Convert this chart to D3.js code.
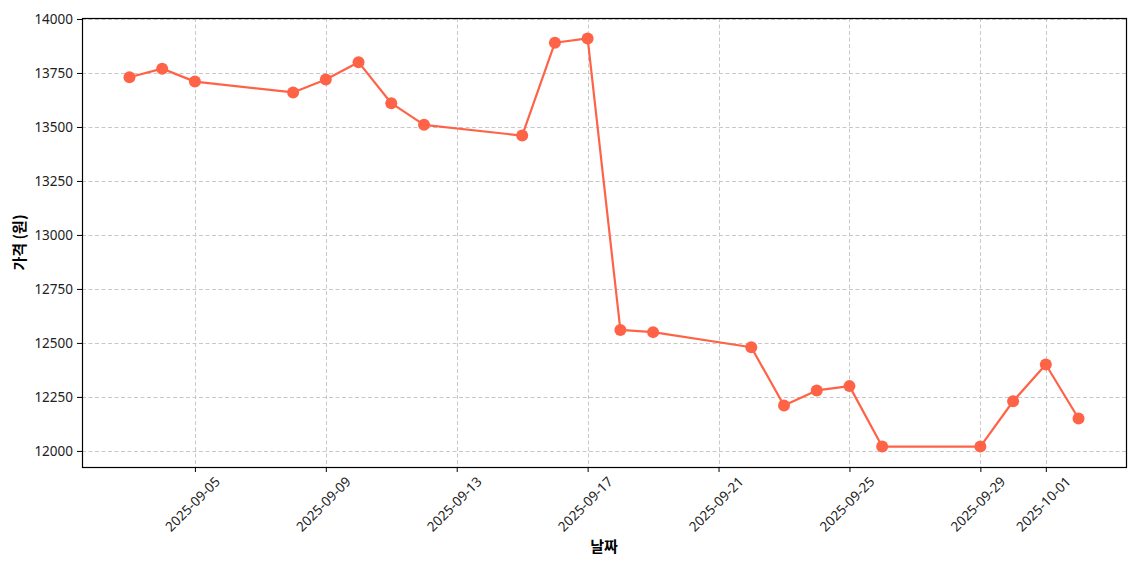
<!DOCTYPE html>
<html>
<head>
<meta charset="utf-8">
<script src="https://cdn.jsdelivr.net/npm/d3@7"></script>
<style>
  body { margin: 0; background: #fff; }
  text { font-family: "Noto Sans", "Noto Sans CJK KR", sans-serif; }
</style>
</head>
<body>
<div id="chart"></div>
<script>
// Data arrays
let dates = ["2025-09-03","2025-09-04","2025-09-05","2025-09-08","2025-09-09","2025-09-10",
  "2025-09-11","2025-09-12","2025-09-15","2025-09-16","2025-09-17","2025-09-18","2025-09-19",
  "2025-09-22","2025-09-23","2025-09-24","2025-09-25","2025-09-26","2025-09-29","2025-09-30",
  "2025-10-01","2025-10-02"];
let prices = [13730,13770,13710,13660,13720,13800,13610,13510,13460,13890,13910,12560,12550,
  12480,12210,12280,12300,12020,12020,12230,12400,12150];
let xTickLabels = ["2025-09-05","2025-09-09","2025-09-13","2025-09-17","2025-09-21",
  "2025-09-25","2025-09-29","2025-10-01"];
let yTicks = [12000,12250,12500,12750,13000,13250,13500,13750,14000];

let width = 1140, height = 570;
let margin = {left: 82, right: 14, top: 18, bottom: 103};
let parse = d3.utcParse("%Y-%m-%d");
let data = dates.map((d, i) => ({date: parse(d), price: prices[i]}));

let svg = d3.select("#chart")
  .append("svg")
  .attr("width", width)
  .attr("height", height);

// matplotlib style 5% padding on both axes
let x0 = data[0].date, x1 = data[data.length - 1].date;
let xPad = (x1 - x0) * 0.05;
let x = d3.scaleUtc()
  .domain([new Date(+x0 - xPad), new Date(+x1 + xPad)])
  .range([margin.left, width - margin.right]);

let yMin = d3.min(prices), yMax = d3.max(prices);
let yPad = (yMax - yMin) * 0.05;
let y = d3.scaleLinear()
  .domain([yMin - yPad, yMax + yPad])
  .range([height - margin.bottom, margin.top]);

let xTicks = xTickLabels.map(parse);

// Grid
let grid = svg.append("g")
  .attr("stroke", "#c8c8c8")
  .attr("stroke-width", 1)
  .attr("stroke-dasharray", "4,2.5");
grid.selectAll(".gx").data(xTicks).enter().append("line")
  .attr("x1", d => Math.round(x(d)) + 0.5).attr("x2", d => Math.round(x(d)) + 0.5)
  .attr("y1", margin.top).attr("y2", height - margin.bottom);
grid.selectAll(".gy").data(yTicks).enter().append("line")
  .attr("x1", margin.left).attr("x2", width - margin.right)
  .attr("y1", d => Math.round(y(d)) + 0.5).attr("y2", d => Math.round(y(d)) + 0.5);

// Axes
let xAxis = svg.append("g")
  .attr("transform", `translate(0,${height - margin.bottom})`)
  .call(d3.axisBottom(x).tickValues(xTicks).tickSize(5).tickPadding(4)
    .tickFormat(d3.utcFormat("%Y-%m-%d")));
xAxis.select(".domain").remove();
xAxis.selectAll("text")
  .attr("font-size", 13.5)
  .attr("fill", "#222")
  .attr("text-anchor", "middle")
  .attr("dy", null)
  .attr("y", null)
  .attr("dominant-baseline", "central")
  .attr("transform", "translate(-3,37) rotate(-45)");

let yAxis = svg.append("g")
  .attr("transform", `translate(${margin.left},0)`)
  .call(d3.axisLeft(y).tickValues(yTicks).tickSize(5).tickPadding(4)
    .tickFormat(d3.format("d")));
yAxis.select(".domain").remove();
yAxis.selectAll("text").attr("font-size", 13.5).attr("fill", "#222");

// Frame
svg.append("rect")
  .attr("x", margin.left + 0.5).attr("y", margin.top + 0.5)
  .attr("width", width - margin.left - margin.right)
  .attr("height", height - margin.top - margin.bottom)
  .attr("fill", "none").attr("stroke", "#000").attr("stroke-width", 1.2);

// Line + markers
let line = d3.line().x(d => x(d.date)).y(d => y(d.price));
svg.append("path")
  .datum(data)
  .attr("d", line)
  .attr("fill", "none")
  .attr("stroke", "#ff6347")
  .attr("stroke-width", 2.2)
  .attr("stroke-linejoin", "round");

svg.selectAll(".dot").data(data).enter().append("circle")
  .attr("cx", d => x(d.date))
  .attr("cy", d => y(d.price))
  .attr("r", 6)
  .attr("fill", "#ff6347");

// Axis labels
svg.append("text")
  .attr("x", (margin.left + width - margin.right) / 2)
  .attr("y", 552)
  .attr("text-anchor", "middle")
  .attr("font-size", 15)
  .attr("font-weight", "bold")
  .style("font-family", "'Noto Sans CJK KR', sans-serif")
  .text("날짜");

svg.append("text")
  .attr("transform", `translate(25,${(margin.top + height - margin.bottom) / 2}) rotate(-90)`)
  .attr("text-anchor", "middle")
  .attr("font-size", 15)
  .attr("font-weight", "bold")
  .style("font-family", "'Noto Sans CJK KR', sans-serif")
  .text("가격 (원)");
</script>
</body>
</html>
